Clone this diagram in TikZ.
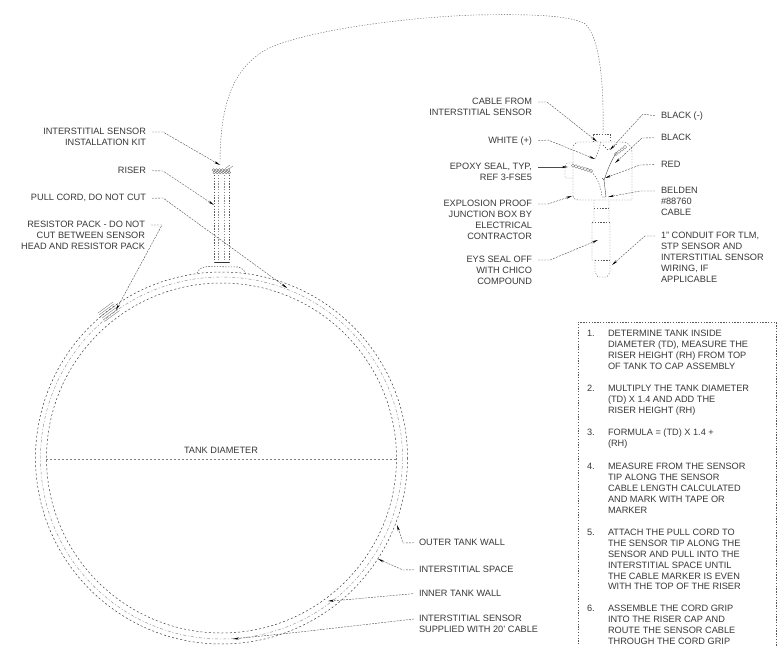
\documentclass[tikz,border=0pt]{standalone}
\usepackage{fontspec}
\setmainfont{Liberation Sans}
\usetikzlibrary{arrows.meta,calc}
\definecolor{ink}{gray}{0.22}
\tikzset{
  x=1pt,y=-1pt,
  lbl/.style={inner sep=0pt,outer sep=0pt,text=ink,font=\fontsize{9.2}{10.9}\selectfont},
  lr/.style={lbl,anchor=north east,align=right},
  ll/.style={lbl,anchor=north west,align=left},
  wall/.style={draw=black!75,line width=0.5pt,dash pattern=on 2pt off 2.2pt},
  midwall/.style={draw=black!45,line width=0.45pt,dash pattern=on 3pt off 2pt on 1pt off 2pt},
  fine/.style={draw=black!65,line width=0.4pt,dash pattern=on 1.3pt off 1.5pt},
  lead/.style={draw=black!70,line width=0.4pt,dash pattern=on 2pt off 1.1pt,-{Stealth[length=6pt,width=2.2pt,black]}},
  hatch/.style={draw=black!55,line width=0.35pt},
}
\begin{document}
\begin{tikzpicture}
\useasboundingbox (0,0) rectangle (784,645);
% tank
\coordinate (tc) at (221.5,458);
\draw[wall] (tc) circle[radius=186];
\draw[midwall] (tc) circle[radius=181];
\draw[wall] (tc) circle[radius=175];
\coordinate (dl) at (46,458.7);
\coordinate (dr) at (396,458.7);
\draw[fine,draw=black!50,dash pattern=on 2pt off 2pt] (dl) -- (dr);
\node[lbl,anchor=center] (tankd) at (221,450) {TANK DIAMETER};
% riser
\draw[fine] (214,175) -- (214,263);
\draw[fine] (229,175) -- (229,263);
\draw[fine,draw=black!45] (218,175) -- (218,263);
\draw[fine,draw=black!45] (224,175) -- (224,263);
\draw[line width=1pt,black!80] (215,262) -- (229,262);
% saddle
\draw[fine,line width=.55pt] (197,273) .. controls (199,268) and (203,267) .. (208,266.5) -- (238,267) .. controls (243,268) and (245,271) .. (246,275);
% cap hatch
\foreach \i in {0,1}{
  \foreach \xx in {213.5,216.5,219.5,222.5,225.5,228.5}{
    \draw[black!60,line width=.4pt] (\xx+\i*0.8,170+\i*2.5) circle[radius=1.4];
  }
}
\draw[hatch] (229,169) -- (233,166);
\draw[hatch] (226,168) -- (230,165);
% cable
\coordinate (c1) at (220,165);
\coordinate (c2) at (603,134);
\draw[fine] (c1) .. controls (220,105) and (232,72) .. (262,52)
  .. controls (290,34) and (390,18) .. (475,15)
  .. controls (530,14) and (565,15) .. (584,23)
  .. controls (600,35) and (604,85) .. (c2);
% resistor pack
\foreach \i in {0,1,2,3,4,5}{
  \draw[hatch] ($(98,313)+(\i*1.3,\i*1.7)$) -- ++(15,-11);
}
% junction box
\draw[fine,line width=.45pt] (573,196) -- (573,146) -- (577,142) -- (622,142)
  .. controls (628,142) and (632,146) .. (632,152) -- (632,200) -- (580,200) .. controls (576,200) and (573,199) .. (573,196);
\draw[fine] (593,142) -- (593,134) -- (610,134) -- (610,142);
\draw[fine] (573,163) -- (567,163) -- (565,166) -- (565,178) -- (573,178);
% conduit
\draw[fine] (594,200) -- (594,222) -- (592,222) -- (592,260) -- (595,260) -- (595,272) -- (598,277) -- (607,277) -- (610,272) -- (610,260) -- (610,222) -- (609,222) -- (609,200);
\draw[fine] (594,208) -- (609,208);
\draw[fine] (592,222) -- (610,222);
\draw[fine] (595,260) -- (610,260);
% wires
\draw[fine,draw=black!70] (601,142) -- (597,155) -- (594,160);
\draw[fine,draw=black!75] (587,168) .. controls (596,174) and (601,185) .. (602,197);
\draw[draw=black!70,line width=.4pt] (617,152) .. controls (610,162) and (607,172) .. (604,180) -- (602,178);
\draw[draw=black!70,line width=.4pt] (604,180) -- (606,197) -- (602,197);
\draw[fine,draw=black!75] (603,145) -- (608,150) -- (617,144);
% epoxy hatches
\foreach \i in {0,1,2,3,4,5,6}{
  \draw[black!50,line width=.35pt] (573+\i*3,165.5+\i*0.9) circle[radius=1.7];
}
\foreach \i in {0,1,2,3}{
  \draw[black!50,line width=.35pt] (616+\i*3,154-\i*2.3) circle[radius=1.7];
}
% left labels
\node[lr] (kit) at (146,128) {INTERSTITIAL SENSOR\\INSTALLATION KIT};
\node[lr] (riser) at (146,167.5) {RISER};
\node[lr] (pull) at (146,194.5) {PULL CORD, DO NOT CUT};
\node[lr] (resis) at (145,221) {RESISTOR PACK - DO NOT\\CUT BETWEEN SENSOR\\HEAD AND RESISTOR PACK};
% junction labels
\node[lr] (cfrom) at (532,98.5) {CABLE FROM\\INTERSTITIAL SENSOR};
\node[lr] (white) at (532,136.5) {WHITE (+)};
\node[lr] (epoxy) at (532,163.5) {EPOXY SEAL, TYP,\\REF 3-FSE5};
\node[lr] (expl) at (532,200.5) {EXPLOSION PROOF\\JUNCTION BOX BY\\ELECTRICAL\\CONTRACTOR};
\node[lr] (eys) at (532,256.5) {EYS SEAL OFF\\WITH CHICO\\COMPOUND};
\node[ll] (blkm) at (661,111.5) {BLACK (-)};
\node[ll] (blk) at (661,134.5) {BLACK};
\node[ll] (red) at (661,161.5) {RED};
\node[ll] (beld) at (661,187.5) {BELDEN\\\#88760\\CABLE};
\node[ll] (cond) at (661,232.5) {1" CONDUIT FOR TLM,\\STP SENSOR AND\\INTERSTITIAL SENSOR\\WIRING, IF\\APPLICABLE};
% tank labels
\node[ll] (outer) at (419,539.5) {OUTER TANK WALL};
\node[ll] (space) at (419,566.5) {INTERSTITIAL SPACE};
\node[ll] (inner) at (419,590.5) {INNER TANK WALL};
\node[ll] (isens) at (419,615.5) {INTERSTITIAL SENSOR\\SUPPLIED WITH 20' CABLE};
% targets
\coordinate (tkit) at (220,165);
\coordinate (trise) at (214,205);
\coordinate (tpull) at (287,288);
\coordinate (tres) at (116,310);
\coordinate (tcab) at (597,141.5);
\coordinate (twh) at (595,159);
\coordinate (tep) at (568,167);
\coordinate (tex) at (572,196);
\coordinate (tey) at (598,240);
\coordinate (tbm) at (610,150);
\coordinate (tbk) at (615,163);
\coordinate (trd) at (605,178);
\coordinate (tbe) at (608,197);
\coordinate (tco) at (612,265);
\coordinate (tou) at (397,525);
\coordinate (tsp) at (378,559);
\coordinate (tin) at (328,601);
\coordinate (tis) at (233,639);
% leaders
\draw[lead] ($(kit.north east)+(6,4)$) -- (163,132) -- (tkit);
\draw[lead] ([xshift=6pt]riser.east) -- (163,171) -- (trise);
\draw[lead] ([xshift=6pt]pull.east) -- (163,198) -- (tpull);
\draw[lead] ($(resis.north east)+(6,4)$) -- (162,225) -- (tres);
\draw[lead] ($(cfrom.north east)+(6,3.5)$) -- (547,102) -- (tcab);
\draw[lead] ([xshift=6pt]white.east) -- (548,140) -- (twh);
\draw[lead,line width=.5pt,solid] ($(epoxy.north east)+(6,3.5)$) -- (tep);
\draw[lead] ($(expl.north east)+(6,3.5)$) -- (548,204) -- (tex);
\draw[lead] ($(eys.north east)+(6,3.5)$) -- (550,260) -- (tey);
\draw[lead] ([xshift=-6pt]blkm.west) -- (643,114) -- (tbm);
\draw[lead] ([xshift=-7pt]blk.west) -- (642,138) -- (tbk);
\draw[lead] ([xshift=-7pt]red.west) -- (640,165) -- (trd);
\draw[lead] ($(beld.north west)+(-6,3.5)$) -- (640,191) -- (tbe);
\draw[lead] ($(cond.north west)+(-6,3.5)$) -- (645,236) -- (tco);
\draw[lead] ([xshift=-5pt]outer.west) -- (403,543) -- (tou);
\draw[lead] ([xshift=-5pt]space.west) -- (403,570) -- (tsp);
\draw[lead] ([xshift=-6pt]inner.west) -- (343,600) -- (tin);
\draw[lead] ($(isens.north west)+(-5,3.5)$) -- (300,632) -- (tis);
% instruction box
\coordinate (ba) at (578,322);
\coordinate (bb) at (776,322);
\coordinate (bc) at (776,650);
\coordinate (bd) at (578,650);
\draw[fine,line width=.45pt] (bd) -- (ba) -- (bb) -- (bc);
\foreach \n/\yy in {1/330,2/385,3/429,4/463,5/529,6/605}{
  \node[ll] (n\n) at (587,\yy) {\n.};
}
\node[ll] (s1) at (608,330) {DETERMINE TANK INSIDE\\DIAMETER (TD), MEASURE THE\\RISER HEIGHT (RH) FROM TOP\\OF TANK TO CAP ASSEMBLY};
\node[ll] (s2) at (608,385) {MULTIPLY THE TANK DIAMETER\\(TD) X 1.4 AND ADD THE\\RISER HEIGHT (RH)};
\node[ll] (s3) at (608,429) {FORMULA = (TD) X 1.4 +\\(RH)};
\node[ll] (s4) at (608,463) {MEASURE FROM THE SENSOR\\TIP ALONG THE SENSOR\\CABLE LENGTH CALCULATED\\AND MARK WITH TAPE OR\\MARKER};
\node[ll] (s5) at (608,529) {ATTACH THE PULL CORD TO\\THE SENSOR TIP ALONG THE\\SENSOR AND PULL INTO THE\\INTERSTITIAL SPACE UNTIL\\THE CABLE MARKER IS EVEN\\WITH THE TOP OF THE RISER};
\node[ll] (s6) at (608,605) {ASSEMBLE THE CORD GRIP\\INTO THE RISER CAP AND\\ROUTE THE SENSOR CABLE\\THROUGH THE CORD GRIP};
\end{tikzpicture}
\end{document}
